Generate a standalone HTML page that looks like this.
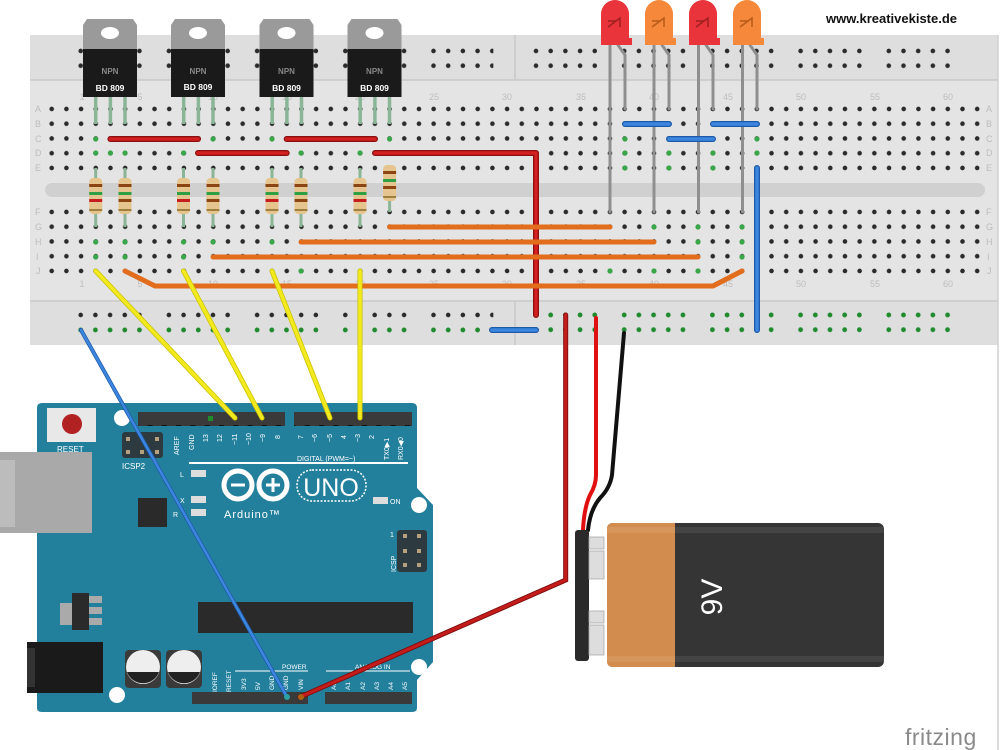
<!DOCTYPE html>
<html><head><meta charset="utf-8"><style>
html,body{margin:0;padding:0;background:#fff;width:1000px;height:750px;overflow:hidden}
svg{display:block}
text{font-family:"Liberation Sans",sans-serif}
</style></head><body>
<svg width="1000" height="750" viewBox="0 0 1000 750" xmlns="http://www.w3.org/2000/svg">
<defs>
<pattern id="g" x="44.36" y="101.6" width="14.69" height="14.75" patternUnits="userSpaceOnUse"><circle cx="7.345" cy="7.375" r="2.3" fill="#2a2a2a"/></pattern>
<pattern id="g2" x="44.36" y="204.6" width="14.69" height="14.75" patternUnits="userSpaceOnUse"><circle cx="7.345" cy="7.375" r="2.3" fill="#2a2a2a"/></pattern>
<pattern id="rl" x="73.35" y="43.6" width="88.2" height="14.75" patternUnits="userSpaceOnUse"><g fill="#2a2a2a"><circle cx="7.35" cy="7.375" r="2.3"/><circle cx="22.04" cy="7.375" r="2.3"/><circle cx="36.73" cy="7.375" r="2.3"/><circle cx="51.42" cy="7.375" r="2.3"/><circle cx="66.11" cy="7.375" r="2.3"/></g></pattern>
<pattern id="rr" x="528.65" y="43.6" width="88.2" height="14.75" patternUnits="userSpaceOnUse"><g fill="#2a2a2a"><circle cx="7.35" cy="7.375" r="2.3"/><circle cx="22.04" cy="7.375" r="2.3"/><circle cx="36.73" cy="7.375" r="2.3"/><circle cx="51.42" cy="7.375" r="2.3"/><circle cx="66.11" cy="7.375" r="2.3"/></g></pattern>
<pattern id="bl" x="73.35" y="307.6" width="88.2" height="14.75" patternUnits="userSpaceOnUse"><g fill="#2a2a2a"><circle cx="7.35" cy="7.375" r="2.3"/><circle cx="22.04" cy="7.375" r="2.3"/><circle cx="36.73" cy="7.375" r="2.3"/><circle cx="51.42" cy="7.375" r="2.3"/><circle cx="66.11" cy="7.375" r="2.3"/></g></pattern>
<pattern id="blg" x="73.35" y="322.6" width="88.2" height="14.75" patternUnits="userSpaceOnUse"><g fill="#1f8a2e"><circle cx="7.35" cy="7.375" r="2.4"/><circle cx="22.04" cy="7.375" r="2.4"/><circle cx="36.73" cy="7.375" r="2.4"/><circle cx="51.42" cy="7.375" r="2.4"/><circle cx="66.11" cy="7.375" r="2.4"/></g></pattern>
<pattern id="brg" x="528.65" y="307.6" width="88.2" height="14.75" patternUnits="userSpaceOnUse"><g fill="#1f8a2e"><circle cx="7.35" cy="7.375" r="2.4"/><circle cx="22.04" cy="7.375" r="2.4"/><circle cx="36.73" cy="7.375" r="2.4"/><circle cx="51.42" cy="7.375" r="2.4"/><circle cx="66.11" cy="7.375" r="2.4"/></g></pattern>
<pattern id="hd" x="0" y="0" width="14.3" height="20" patternUnits="userSpaceOnUse"><rect width="14.3" height="20" fill="#3a3a3a"/><rect x="4.5" y="5" width="5" height="5" fill="#111"/></pattern>
</defs>

<!-- breadboard -->
<rect x="30" y="35" width="968" height="310" fill="#dedede"/>
<rect x="30" y="80" width="968" height="221" fill="#e4e4e4"/>
<line x1="30" y1="80" x2="998" y2="80" stroke="#c8c8c8" stroke-width="1.5"/>
<line x1="30" y1="301" x2="998" y2="301" stroke="#c8c8c8" stroke-width="1.5"/>
<line x1="515" y1="35" x2="515" y2="80" stroke="#c8c8c8" stroke-width="1.5"/>
<line x1="515" y1="301" x2="515" y2="345" stroke="#c8c8c8" stroke-width="1.5"/>
<line x1="998" y1="35" x2="998" y2="750" stroke="#d0d0d0" stroke-width="1.5"/>
<rect x="45" y="183" width="940" height="14" rx="7" fill="#d0d0d0"/>
<rect x="44.36" y="101.6" width="940.2" height="73.75" fill="url(#g)"/>
<rect x="44.36" y="204.6" width="940.2" height="73.75" fill="url(#g2)"/>
<rect x="73.35" y="43.6" width="420" height="29.5" fill="url(#rl)"/>
<rect x="528.65" y="43.6" width="430" height="29.5" fill="url(#rr)"/>
<rect x="73.35" y="307.6" width="420" height="14.75" fill="url(#bl)"/>
<rect x="73.35" y="322.6" width="420" height="14.75" fill="url(#blg)"/>
<rect x="528.65" y="307.6" width="430" height="29.5" fill="url(#brg)"/>
<g fill="#bdbdbd" font-size="9">
<text x="35" y="112">A</text><text x="35" y="127">B</text><text x="35" y="142">C</text><text x="35" y="156">D</text><text x="35" y="171">E</text>
<text x="35" y="215">F</text><text x="35" y="230">G</text><text x="35" y="245">H</text><text x="36" y="260">I</text><text x="36" y="274">J</text>
<text x="986" y="112">A</text><text x="986" y="127">B</text><text x="986" y="142">C</text><text x="986" y="156">D</text><text x="986" y="171">E</text>
<text x="986" y="215">F</text><text x="986" y="230">G</text><text x="986" y="245">H</text><text x="987" y="260">I</text><text x="987" y="274">J</text>
</g>
<g fill="#bdbdbd" font-size="9" text-anchor="middle">
<text x="82" y="100">1</text><text x="140" y="100">5</text><text x="213" y="100">10</text><text x="287" y="100">15</text><text x="360" y="100">20</text><text x="434" y="100">25</text><text x="507" y="100">30</text><text x="581" y="100">35</text><text x="654" y="100">40</text><text x="728" y="100">45</text><text x="801" y="100">50</text><text x="875" y="100">55</text><text x="948" y="100">60</text>
<text x="82" y="287">1</text><text x="140" y="287">5</text><text x="213" y="287">10</text><text x="287" y="287">15</text><text x="360" y="287">20</text><text x="434" y="287">25</text><text x="507" y="287">30</text><text x="581" y="287">35</text><text x="654" y="287">40</text><text x="728" y="287">45</text><text x="801" y="287">50</text><text x="875" y="287">55</text><text x="948" y="287">60</text>
</g>
<g fill="#3aa64a">
<circle cx="95.7" cy="139" r="2.6"/><circle cx="95.7" cy="153" r="2.6"/><circle cx="110.4" cy="153" r="2.6"/><circle cx="125" cy="153" r="2.6"/><circle cx="183.5" cy="153" r="2.6"/><circle cx="213" cy="139" r="2.6"/><circle cx="272" cy="139" r="2.6"/><circle cx="301" cy="153" r="2.6"/><circle cx="360" cy="153" r="2.6"/><circle cx="389.6" cy="139" r="2.6"/>
<circle cx="95.7" cy="242" r="2.6"/><circle cx="95.7" cy="257" r="2.6"/><circle cx="125" cy="242" r="2.6"/><circle cx="125" cy="257" r="2.6"/><circle cx="183.5" cy="242" r="2.6"/><circle cx="183.5" cy="257" r="2.6"/><circle cx="213" cy="242" r="2.6"/><circle cx="272" cy="242" r="2.6"/><circle cx="301" cy="271" r="2.6"/>
<circle cx="625" cy="139" r="2.6"/><circle cx="625" cy="153" r="2.6"/><circle cx="625" cy="168" r="2.6"/><circle cx="669" cy="153" r="2.6"/><circle cx="669" cy="168" r="2.6"/><circle cx="713" cy="153" r="2.6"/><circle cx="713" cy="168" r="2.6"/><circle cx="757" cy="139" r="2.6"/><circle cx="757" cy="153" r="2.6"/>
<circle cx="654" cy="227" r="2.6"/><circle cx="698" cy="227" r="2.6"/><circle cx="698" cy="242" r="2.6"/><circle cx="742" cy="227" r="2.6"/><circle cx="742" cy="242" r="2.6"/><circle cx="742" cy="257" r="2.6"/><circle cx="610" cy="271" r="2.6"/><circle cx="654" cy="271" r="2.6"/><circle cx="698" cy="271" r="2.6"/>
</g>

<!-- transistors -->
<g>
<g stroke="#8ab596" stroke-width="3.5"><line x1="95.7" y1="96" x2="95.7" y2="124"/><line x1="110.4" y1="96" x2="110.4" y2="124"/><line x1="125" y1="96" x2="125" y2="124"/></g>
<path d="M83 25 L87 19 L133 19 L137 25 L137 50 L83 50Z" fill="#9a9a9a"/>
<ellipse cx="110" cy="33" rx="9" ry="6" fill="#fff"/>
<rect x="83" y="49" width="54" height="48" fill="#1a1a1a"/>
<text x="110" y="74" fill="#888" font-size="8" font-weight="bold" text-anchor="middle">NPN</text>
<text x="110" y="91" fill="#fff" font-size="8.5" font-weight="bold" text-anchor="middle">BD 809</text>
</g>
<g transform="translate(88,0)">
<g stroke="#8ab596" stroke-width="3.5"><line x1="95.7" y1="96" x2="95.7" y2="124"/><line x1="110.4" y1="96" x2="110.4" y2="124"/><line x1="125" y1="96" x2="125" y2="124"/></g>
<path d="M83 25 L87 19 L133 19 L137 25 L137 50 L83 50Z" fill="#9a9a9a"/>
<ellipse cx="110" cy="33" rx="9" ry="6" fill="#fff"/>
<rect x="83" y="49" width="54" height="48" fill="#1a1a1a"/>
<text x="110" y="74" fill="#888" font-size="8" font-weight="bold" text-anchor="middle">NPN</text>
<text x="110" y="90" fill="#fff" font-size="8.5" font-weight="bold" text-anchor="middle">BD 809</text>
</g>
<g transform="translate(176.5,0)">
<g stroke="#8ab596" stroke-width="3.5"><line x1="95.7" y1="96" x2="95.7" y2="124"/><line x1="110.4" y1="96" x2="110.4" y2="124"/><line x1="125" y1="96" x2="125" y2="124"/></g>
<path d="M83 25 L87 19 L133 19 L137 25 L137 50 L83 50Z" fill="#9a9a9a"/>
<ellipse cx="110" cy="33" rx="9" ry="6" fill="#fff"/>
<rect x="83" y="49" width="54" height="48" fill="#1a1a1a"/>
<text x="110" y="74" fill="#888" font-size="8" font-weight="bold" text-anchor="middle">NPN</text>
<text x="110" y="91" fill="#fff" font-size="8.5" font-weight="bold" text-anchor="middle">BD 809</text>
</g>
<g transform="translate(264.5,0)">
<g stroke="#8ab596" stroke-width="3.5"><line x1="95.7" y1="96" x2="95.7" y2="124"/><line x1="110.4" y1="96" x2="110.4" y2="124"/><line x1="125" y1="96" x2="125" y2="124"/></g>
<path d="M83 25 L87 19 L133 19 L137 25 L137 50 L83 50Z" fill="#9a9a9a"/>
<ellipse cx="110" cy="33" rx="9" ry="6" fill="#fff"/>
<rect x="83" y="49" width="54" height="48" fill="#1a1a1a"/>
<text x="110" y="74" fill="#888" font-size="8" font-weight="bold" text-anchor="middle">NPN</text>
<text x="110" y="91" fill="#fff" font-size="8.5" font-weight="bold" text-anchor="middle">BD 809</text>
</g>

<!-- resistors -->
<g stroke="#8ab596" stroke-width="3">
<line x1="95.7" y1="168" x2="95.7" y2="227"/><line x1="125" y1="168" x2="125" y2="227"/><line x1="183.5" y1="168" x2="183.5" y2="227"/><line x1="213" y1="168" x2="213" y2="227"/><line x1="272" y1="168" x2="272" y2="227"/><line x1="301" y1="168" x2="301" y2="227"/><line x1="360" y1="168" x2="360" y2="227"/><line x1="389.6" y1="168" x2="389.6" y2="212"/>
</g>
<g>
<g transform="translate(95.7,0)"><rect x="-6.5" y="178" width="13" height="36" rx="4" fill="#e6c48e"/><rect x="-6.5" y="184" width="13" height="3" fill="#8b4513"/><rect x="-6.5" y="192" width="13" height="3" fill="#2ea043"/><rect x="-6.5" y="199" width="13" height="3" fill="#c41e1e"/><rect x="-6.5" y="209" width="13" height="2" fill="#a08040"/></g>
<g transform="translate(125,0)"><rect x="-6.5" y="178" width="13" height="36" rx="4" fill="#e6c48e"/><rect x="-6.5" y="184" width="13" height="3" fill="#8b4513"/><rect x="-6.5" y="192" width="13" height="3" fill="#2ea043"/><rect x="-6.5" y="199" width="13" height="3" fill="#8b4513"/><rect x="-6.5" y="209" width="13" height="2" fill="#a08040"/></g>
<g transform="translate(183.5,0)"><rect x="-6.5" y="178" width="13" height="36" rx="4" fill="#e6c48e"/><rect x="-6.5" y="184" width="13" height="3" fill="#8b4513"/><rect x="-6.5" y="192" width="13" height="3" fill="#2ea043"/><rect x="-6.5" y="199" width="13" height="3" fill="#c41e1e"/><rect x="-6.5" y="209" width="13" height="2" fill="#a08040"/></g>
<g transform="translate(213,0)"><rect x="-6.5" y="178" width="13" height="36" rx="4" fill="#e6c48e"/><rect x="-6.5" y="184" width="13" height="3" fill="#8b4513"/><rect x="-6.5" y="192" width="13" height="3" fill="#2ea043"/><rect x="-6.5" y="199" width="13" height="3" fill="#8b4513"/><rect x="-6.5" y="209" width="13" height="2" fill="#a08040"/></g>
<g transform="translate(272,0)"><rect x="-6.5" y="178" width="13" height="36" rx="4" fill="#e6c48e"/><rect x="-6.5" y="184" width="13" height="3" fill="#8b4513"/><rect x="-6.5" y="192" width="13" height="3" fill="#2ea043"/><rect x="-6.5" y="199" width="13" height="3" fill="#c41e1e"/><rect x="-6.5" y="209" width="13" height="2" fill="#a08040"/></g>
<g transform="translate(301,0)"><rect x="-6.5" y="178" width="13" height="36" rx="4" fill="#e6c48e"/><rect x="-6.5" y="184" width="13" height="3" fill="#8b4513"/><rect x="-6.5" y="192" width="13" height="3" fill="#2ea043"/><rect x="-6.5" y="199" width="13" height="3" fill="#8b4513"/><rect x="-6.5" y="209" width="13" height="2" fill="#a08040"/></g>
<g transform="translate(360,0)"><rect x="-6.5" y="178" width="13" height="36" rx="4" fill="#e6c48e"/><rect x="-6.5" y="184" width="13" height="3" fill="#8b4513"/><rect x="-6.5" y="192" width="13" height="3" fill="#2ea043"/><rect x="-6.5" y="199" width="13" height="3" fill="#c41e1e"/><rect x="-6.5" y="209" width="13" height="2" fill="#a08040"/></g>
<g transform="translate(389.6,-13)"><rect x="-6.5" y="178" width="13" height="36" rx="4" fill="#e6c48e"/><rect x="-6.5" y="184" width="13" height="3" fill="#8b4513"/><rect x="-6.5" y="192" width="13" height="3" fill="#2ea043"/><rect x="-6.5" y="199" width="13" height="3" fill="#8b4513"/><rect x="-6.5" y="209" width="13" height="2" fill="#a08040"/></g>
</g>

<g fill="none" stroke-linecap="round" stroke-linejoin="round">
<g stroke="#8a1010" stroke-width="6"><line x1="110.4" y1="139" x2="198" y2="139"/><line x1="198" y1="153" x2="286.7" y2="153"/><line x1="286.7" y1="139" x2="375" y2="139"/><polyline points="375,153 536,153 536,315"/></g>
<g stroke="#d21f1f" stroke-width="3.5"><line x1="110.4" y1="139" x2="198" y2="139"/><line x1="198" y1="153" x2="286.7" y2="153"/><line x1="286.7" y1="139" x2="375" y2="139"/><polyline points="375,153 536,153 536,315"/></g>
<g stroke="#e26d1c" stroke-width="5"><line x1="389.6" y1="227" x2="610" y2="227"/><line x1="301" y1="242" x2="654" y2="242"/><line x1="213" y1="257" x2="698" y2="257"/><polyline points="125,271 155,286 713,286 742,271"/></g>
<g stroke="#8f8f8f" stroke-width="3"><line x1="610" y1="40" x2="610" y2="212"/><line x1="654" y1="40" x2="654" y2="212"/><line x1="698.5" y1="40" x2="698.5" y2="212"/><line x1="742.5" y1="40" x2="742.5" y2="212"/>
<polyline points="618,45 625,55 625,109"/><polyline points="662,45 669,55 669,109"/><polyline points="706,45 713,55 713,109"/><polyline points="750,45 757,55 757,109"/></g>
<g stroke="#1c5aa8" stroke-width="6"><line x1="625" y1="124" x2="669" y2="124"/><line x1="713" y1="124" x2="757" y2="124"/><line x1="669" y1="139" x2="713" y2="139"/><line x1="757" y1="168" x2="757" y2="330"/><line x1="492" y1="330" x2="536" y2="330"/></g>
<g stroke="#3d86df" stroke-width="3.5"><line x1="625" y1="124" x2="669" y2="124"/><line x1="713" y1="124" x2="757" y2="124"/><line x1="669" y1="139" x2="713" y2="139"/><line x1="757" y1="168" x2="757" y2="330"/><line x1="492" y1="330" x2="536" y2="330"/></g>
</g>
<g>
<path d="M601 45 L601 14 A14 14 0 0 1 629 14 L629 38 L632 38 L632 45Z" fill="#e8343a"/>
<path d="M645 45 L645 14 A14 14 0 0 1 673 14 L673 38 L676 38 L676 45Z" fill="#f5883a"/>
<path d="M689 45 L689 14 A14 14 0 0 1 717 14 L717 38 L720 38 L720 45Z" fill="#e8343a"/>
<path d="M733 45 L733 14 A14 14 0 0 1 761 14 L761 38 L764 38 L764 45Z" fill="#f5883a"/>
<g fill="none" stroke="#a02020" stroke-width="1.5"><path d="M608 27 L620 18 L620 27 M608 21 L616 21"/><path d="M696 27 L708 18 L708 27 M696 21 L704 21"/></g>
<g fill="none" stroke="#b85a18" stroke-width="1.5"><path d="M652 27 L664 18 L664 27 M652 21 L660 21"/><path d="M740 27 L752 18 L752 27 M740 21 L748 21"/></g>
</g>
<text x="826" y="23" font-size="13" font-weight="bold" fill="#111">www.kreativekiste.de</text>

<!-- Arduino -->
<path d="M37 408 Q37 403 42 403 L412 403 Q417 403 417 408 L417 488 L433 505 L433 662 L417 680 L417 708 Q417 712 412 712 L42 712 Q37 712 37 708Z" fill="#23809d"/>
<rect x="0" y="452" width="92" height="81" fill="#a9a9a9"/>
<rect x="0" y="460" width="15" height="67" fill="#bcbcbc"/>
<circle cx="122" cy="418" r="8" fill="#fff"/><circle cx="419" cy="505" r="8" fill="#fff"/><circle cx="117" cy="695" r="8" fill="#fff"/><circle cx="419" cy="667" r="8" fill="#fff"/>
<rect x="47" y="408" width="49" height="34" fill="#e8e8e8"/>
<circle cx="72" cy="424" r="10" fill="#b22222"/>
<text x="57" y="452" font-size="8" fill="#fff" font-family="Liberation Mono">RESET</text>
<rect x="122" y="432" width="41" height="26" rx="3" fill="#2d3b40"/>
<g fill="#b5a080"><rect x="126" y="437" width="4" height="4"/><rect x="155" y="437" width="4" height="4"/><rect x="126" y="450" width="4" height="4"/><rect x="140" y="450" width="4" height="4"/><rect x="155" y="450" width="4" height="4"/></g>
<text x="122" y="469" font-size="8" fill="#fff" font-family="Liberation Mono">ICSP2</text>
<rect x="138" y="412" width="147" height="14" fill="url(#hd)"/>
<rect x="294" y="412" width="118" height="14" fill="url(#hd)"/>
<rect x="208" y="416" width="5" height="5" fill="#1f8a2e"/>
<g fill="#fff" font-size="7" font-family="Liberation Mono">
<text transform="translate(179,455) rotate(-90)">AREF</text><text transform="translate(194,450) rotate(-90)">GND</text><text transform="translate(208,442) rotate(-90)">13</text><text transform="translate(222,442) rotate(-90)">12</text><text transform="translate(237,445) rotate(-90)">~11</text><text transform="translate(251,445) rotate(-90)">~10</text><text transform="translate(265,442) rotate(-90)">~9</text><text transform="translate(280,439) rotate(-90)">8</text>
<text transform="translate(303,439) rotate(-90)">7</text><text transform="translate(317,442) rotate(-90)">~6</text><text transform="translate(332,442) rotate(-90)">~5</text><text transform="translate(346,439) rotate(-90)">4</text><text transform="translate(360,442) rotate(-90)">~3</text><text transform="translate(374,439) rotate(-90)">2</text><text transform="translate(389,460) rotate(-90)">TX0▶1</text><text transform="translate(403,460) rotate(-90)">RX0◀0</text>
<text x="297" y="461">DIGITAL (PWM=~)</text>
<text x="180" y="477">L</text><text x="180" y="503">X</text><text x="173" y="517">R</text><text x="390" y="504">ON</text>
<text x="390" y="537">1</text><text transform="translate(396,572) rotate(-90)">ICSP</text>
</g>
<rect x="189" y="462" width="219" height="2" fill="#fff"/>
<rect x="191" y="470" width="15" height="7" fill="#ddd"/><rect x="191" y="496" width="15" height="7" fill="#ddd"/><rect x="191" y="509" width="15" height="7" fill="#ddd"/><rect x="373" y="497" width="15" height="7" fill="#ddd"/>
<g fill="none" stroke="#fff" stroke-width="5"><circle cx="238" cy="485" r="14"/><circle cx="273" cy="485" r="14"/></g>
<g stroke="#fff" stroke-width="3"><line x1="231" y1="485" x2="245" y2="485"/><line x1="266" y1="485" x2="280" y2="485"/><line x1="273" y1="478" x2="273" y2="492"/></g>
<rect x="297" y="470" width="69" height="31" rx="15" fill="none" stroke="#fff" stroke-width="1.5" stroke-dasharray="2,1.5"/>
<text x="331" y="496" font-size="25" fill="#fff" text-anchor="middle">UNO</text>
<text x="224" y="518" font-size="11" fill="#fff" font-family="Liberation Mono" letter-spacing="1">Arduino™</text>
<rect x="138" y="498" width="29" height="29" fill="#2a2a2a"/>
<rect x="397" y="530" width="30" height="42" rx="3" fill="#2d3b40"/>
<g fill="#b5a080"><rect x="403" y="534" width="4" height="4"/><rect x="417" y="534" width="4" height="4"/><rect x="403" y="549" width="4" height="4"/><rect x="417" y="549" width="4" height="4"/><rect x="403" y="563" width="4" height="4"/><rect x="417" y="563" width="4" height="4"/></g>
<rect x="198" y="602" width="215" height="31" fill="#2a2a2a"/>
<rect x="60" y="603" width="12" height="22" fill="#aaa"/><rect x="72" y="593" width="17" height="37" fill="#2a2a2a"/><rect x="89" y="596" width="13" height="7" fill="#aaa"/><rect x="89" y="607" width="13" height="7" fill="#aaa"/><rect x="89" y="618" width="13" height="7" fill="#aaa"/>
<rect x="27" y="642" width="76" height="51" fill="#1a1a1a"/><rect x="27" y="648" width="8" height="39" fill="#333"/>
<rect x="125" y="650" width="36" height="38" rx="4" fill="#3a3a3a"/><rect x="166" y="650" width="36" height="38" rx="4" fill="#3a3a3a"/>
<circle cx="143" cy="667" r="17" fill="#eee"/><circle cx="184" cy="667" r="17" fill="#eee"/>
<path d="M127 672 A17 17 0 0 0 159 672Z" fill="#222"/><path d="M168 672 A17 17 0 0 0 200 672Z" fill="#222"/>
<rect x="192" y="692" width="116" height="12" fill="url(#hd)"/>
<rect x="325" y="692" width="87" height="12" fill="url(#hd)"/>
<line x1="235" y1="671" x2="308" y2="671" stroke="#fff" stroke-width="1"/><line x1="326" y1="671" x2="410" y2="671" stroke="#fff" stroke-width="1"/>
<g fill="#fff" font-size="6.5" font-family="Liberation Mono">
<text x="282" y="669">POWER</text><text x="355" y="669">ANALOG IN</text>
<text transform="translate(217,692) rotate(-90)">IOREF</text><text transform="translate(231,692) rotate(-90)">RESET</text><text transform="translate(246,690) rotate(-90)">3V3</text><text transform="translate(260,690) rotate(-90)">5V</text><text transform="translate(274,690) rotate(-90)">GND</text><text transform="translate(288,690) rotate(-90)">GND</text><text transform="translate(303,690) rotate(-90)">VIN</text>
<text transform="translate(336,690) rotate(-90)">A0</text><text transform="translate(350,690) rotate(-90)">A1</text><text transform="translate(365,690) rotate(-90)">A2</text><text transform="translate(379,690) rotate(-90)">A3</text><text transform="translate(393,690) rotate(-90)">A4</text><text transform="translate(407,690) rotate(-90)">A5</text>
</g>

<g stroke-linecap="round" fill="none">
<g stroke="#c8c000" stroke-width="5"><line x1="95.7" y1="271" x2="235" y2="418"/><line x1="183.5" y1="271" x2="262" y2="418"/><line x1="272" y1="271" x2="330" y2="418"/><line x1="360" y1="271" x2="360" y2="418"/></g>
<g stroke="#f2ea1e" stroke-width="3.5"><line x1="95.7" y1="271" x2="235" y2="418"/><line x1="183.5" y1="271" x2="262" y2="418"/><line x1="272" y1="271" x2="330" y2="418"/><line x1="360" y1="271" x2="360" y2="418"/></g>
<line x1="81" y1="330" x2="287" y2="697" stroke="#1c5aa8" stroke-width="4"/>
<line x1="81" y1="330" x2="287" y2="697" stroke="#3d86df" stroke-width="2.5"/>
<polyline points="565.7,315 565.7,580 300,697" stroke="#7a0d0d" stroke-width="5"/>
<polyline points="565.7,315 565.7,580 300,697" stroke="#c41b1b" stroke-width="3.2"/>
<path d="M596 318 L596 475 Q596 485 590 495 Q584 508 583 530" stroke="#e01010" stroke-width="4"/>
<path d="M624 333 L612 475 Q610 488 600 498 Q590 510 588 530" stroke="#111" stroke-width="4"/>
</g>
<circle cx="287" cy="697" r="3" fill="#2ba0a0"/><circle cx="301" cy="697" r="3" fill="#b06010"/>

<!-- battery -->
<rect x="575" y="530" width="14" height="131" rx="3" fill="#2a2a2a"/>
<g fill="#ddd" stroke="#aaa" stroke-width="0.8"><rect x="589" y="537" width="15" height="12"/><rect x="589" y="551" width="15" height="28"/><rect x="589" y="611" width="15" height="12"/><rect x="589" y="625" width="15" height="30"/></g>
<rect x="607" y="523" width="277" height="144" rx="6" fill="#353535"/>
<path d="M613 523 L675 523 L675 667 L613 667 Q607 667 607 661 L607 529 Q607 523 613 523Z" fill="#d28c4e"/>
<rect x="607" y="527" width="277" height="6" fill="#fff" opacity="0.08"/>
<rect x="607" y="656" width="277" height="6" fill="#fff" opacity="0.08"/>
<text transform="translate(722,597) rotate(-90)" font-size="30" fill="#fff" text-anchor="middle">9V</text>
<text x="905" y="745" font-size="23" fill="#8a8a8a" letter-spacing="0.5">fritzing</text>
</svg>
</body></html>
